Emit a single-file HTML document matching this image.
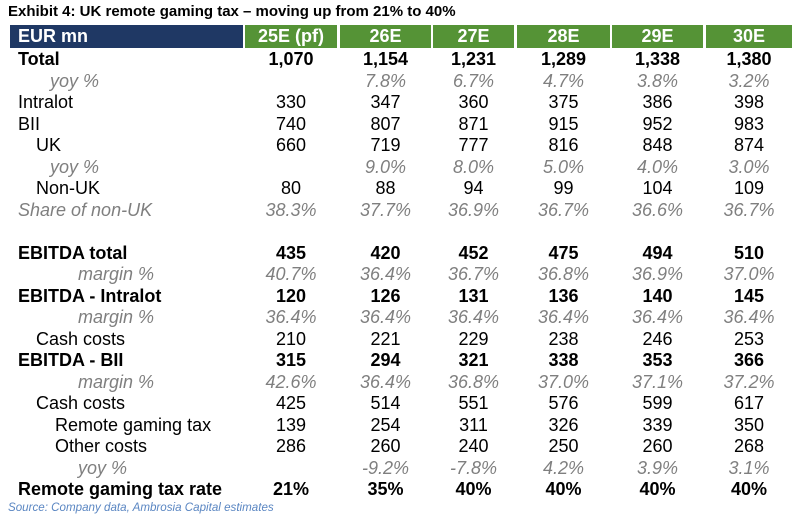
<!DOCTYPE html>
<html><head><meta charset="utf-8"><style>
body{margin:0;width:797px;height:523px;background:#fff;font-family:"Liberation Sans",Arial,sans-serif;position:relative;overflow:hidden}
.t{position:absolute;left:8px;top:3px;font-size:15px;font-weight:bold;color:#000}
.h{position:absolute;top:25px;height:23px;line-height:23px;color:#fff;font-weight:bold;font-size:18px;text-align:center}
.nav{background:#1f3864;text-align:left;padding-left:8px;box-sizing:border-box}
.g{background:#559336}
.r{position:absolute;left:0;width:797px;height:21.5px;line-height:21.5px;font-size:18px;color:#000}
.r span{position:absolute;top:0}
.r .v{text-align:center}
.b{font-weight:bold}
.i{font-style:italic;color:#7f7f7f}
.src{position:absolute;left:8px;top:501px;font-size:11.6px;font-style:italic;color:#5a86c2}
</style></head><body>
<div class="t">Exhibit 4: UK remote gaming tax – moving up from 21% to 40%</div>
<div class="h nav" style="left:10px;width:233px">EUR mn</div>
<div class="h g" style="left:245px;width:92px">25E (pf)</div>
<div class="h g" style="left:340px;width:91px">26E</div>
<div class="h g" style="left:433px;width:81px">27E</div>
<div class="h g" style="left:517px;width:93px">28E</div>
<div class="h g" style="left:612px;width:91px">29E</div>
<div class="h g" style="left:706px;width:86px">30E</div>
<div id="rows"></div>
<div class="src">Source: Company data, Ambrosia Capital estimates</div>
<script>
const colL=[245,340,433,517,612,706];
const colW=[92,91,81,93,91,86];
const rows=[
["Total",18,"b",["1,070","1,154","1,231","1,289","1,338","1,380"]],
["yoy %",50,"i",["","7.8%","6.7%","4.7%","3.8%","3.2%"]],
["Intralot",18,"",["330","347","360","375","386","398"]],
["BII",18,"",["740","807","871","915","952","983"]],
["UK",36,"",["660","719","777","816","848","874"]],
["yoy %",50,"i",["","9.0%","8.0%","5.0%","4.0%","3.0%"]],
["Non-UK",36,"",["80","88","94","99","104","109"]],
["Share of non-UK",18,"i",["38.3%","37.7%","36.9%","36.7%","36.6%","36.7%"]],
["",18,"",["","","","","",""]],
["EBITDA total",18,"b",["435","420","452","475","494","510"]],
["margin %",78,"i",["40.7%","36.4%","36.7%","36.8%","36.9%","37.0%"]],
["EBITDA - Intralot",18,"b",["120","126","131","136","140","145"]],
["margin %",78,"i",["36.4%","36.4%","36.4%","36.4%","36.4%","36.4%"]],
["Cash costs",36,"",["210","221","229","238","246","253"]],
["EBITDA - BII",18,"b",["315","294","321","338","353","366"]],
["margin %",78,"i",["42.6%","36.4%","36.8%","37.0%","37.1%","37.2%"]],
["Cash costs",36,"",["425","514","551","576","599","617"]],
["Remote gaming tax",55,"",["139","254","311","326","339","350"]],
["Other costs",55,"",["286","260","240","250","260","268"]],
["yoy %",78,"i",["","-9.2%","-7.8%","4.2%","3.9%","3.1%"]],
["Remote gaming tax rate",18,"b",["21%","35%","40%","40%","40%","40%"]]
];
const host=document.getElementById('rows');
rows.forEach((r,k)=>{
  const d=document.createElement('div');
  d.className='r '+r[2];
  d.style.top=(49+k*21.5)+'px';
  
  
  const l=document.createElement('span');
  l.style.left=r[1]+'px';
  l.textContent=r[0];
  
  
  d.appendChild(l);
  r[3].forEach((v,j)=>{
    const s=document.createElement('span');
    s.className='v';
    s.style.left=colL[j]+'px';
    s.style.width=colW[j]+'px';
    s.textContent=v;
    
    
    d.appendChild(s);
  });
  host.appendChild(d);
});
</script>
</body></html>
